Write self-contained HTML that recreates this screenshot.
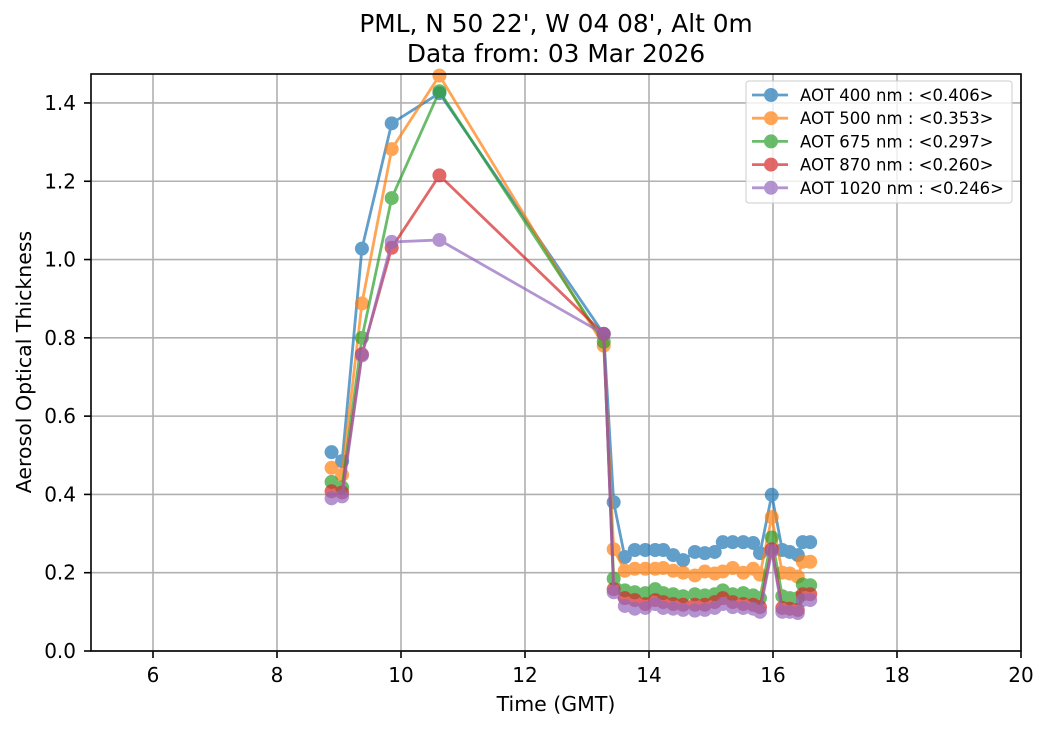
<!DOCTYPE html>
<html><head><meta charset="utf-8"><style>body{margin:0;background:#fff}svg{display:block;font-family:"DejaVu Sans","Liberation Sans",sans-serif}</style></head><body>
<svg id="c" width="1049" height="729"></svg>
<script>
const times=[8.88,9.05,9.37,9.85,10.62,13.27,13.43,13.61,13.77,13.94,14.10,14.23,14.39,14.55,14.74,14.90,15.06,15.19,15.35,15.52,15.68,15.79,15.98,16.15,16.27,16.40,16.48,16.60];
const aot400=[.508,.485,1.028,1.348,1.425,.81,.38,.240,.258,.258,.258,.258,.245,.232,.253,.250,.253,.278,.278,.278,.276,.250,.399,.258,.253,.245,.278,.278];
const aot500=[.468,.45,.888,1.282,1.47,.78,.26,.205,.21,.21,.21,.212,.205,.2,.193,.203,.198,.203,.212,.2,.21,.195,.342,.2,.198,.19,.228,.228];
const aot675=[.432,.418,.8,1.157,1.43,.79,.185,.155,.15,.148,.158,.148,.145,.14,.145,.142,.145,.155,.145,.148,.142,.135,.29,.14,.135,.135,.17,.168];
const aot870=[.408,.405,.758,1.03,1.215,.81,.158,.135,.13,.12,.13,.125,.12,.118,.118,.118,.125,.135,.125,.12,.118,.112,.26,.11,.108,.105,.145,.145];
const aot1020=[.39,.395,.755,1.045,1.05,.81,.15,.115,.108,.11,.12,.11,.108,.105,.103,.105,.11,.12,.112,.11,.108,.1,.255,.1,.1,.097,.13,.13];
const seriesLabels=["AOT 400 nm : <0.406>","AOT 500 nm : <0.353>","AOT 675 nm : <0.297>","AOT 870 nm : <0.260>","AOT 1020 nm : <0.246>"];
const xTicks=[6,8,10,12,14,16,18,20];
const yTicks=[0,0.2,0.4,0.6,0.8,1.0,1.2,1.4];
const series=[aot400,aot500,aot675,aot870,aot1020];
const colors=["#1f77b4","#ff7f0e","#2ca02c","#d62728","#9467bd"];
const L=91,R=1021,T=74,B=651,xmin=5,xmax=20,ymin=0,ymax=1.474;
const X=v=>L+(v-xmin)/(xmax-xmin)*(R-L), Y=v=>B-(v-ymin)/(ymax-ymin)*(B-T);
const svg=document.getElementById('c');const NS="http://www.w3.org/2000/svg";
function mk(t,a,p){const e=document.createElementNS(NS,t);for(const k in a)e.setAttribute(k,a[k]);(p||svg).appendChild(e);return e;}
function tx(s,a){const e=mk('text',a);e.textContent=s;return e;}
xTicks.forEach(v=>{const g=mk('line',{x1:X(v),x2:X(v),y1:T,y2:B,stroke:'#b0b0b0','stroke-width':1.6});
mk('line',{x1:X(v),x2:X(v),y1:B,y2:B+7,stroke:'#000','stroke-width':1.6});const t=tx(String(v),{x:X(v),y:682,'text-anchor':'middle','font-size':20});});
yTicks.forEach(v=>{const g=mk('line',{x1:L,x2:R,y1:Y(v),y2:Y(v),stroke:'#b0b0b0','stroke-width':1.6});
mk('line',{x1:L-7,x2:L,y1:Y(v),y2:Y(v),stroke:'#000','stroke-width':1.6});const t=tx(v.toFixed(1),{x:L-15,y:Y(v)+7,'text-anchor':'end','font-size':20});});
series.forEach((s,i)=>{const g=mk('g',{opacity:0.7});
mk('polyline',{points:s.map((v,j)=>X(times[j])+','+Y(v)).join(' '),fill:'none',stroke:colors[i],'stroke-width':2.8},g);
s.forEach((v,j)=>{const c=mk('circle',{cx:X(times[j]),cy:Y(v),r:7,fill:colors[i]},g);});});
const fr=mk('rect',{x:L,y:T,width:R-L,height:B-T,fill:'none',stroke:'#000','stroke-width':1.6});
const lg=mk('g',{});
mk('rect',{x:746,y:81,width:266,height:122,rx:3,fill:'#fff','fill-opacity':0.8,stroke:'#ccc'},lg);
seriesLabels.forEach((s,i)=>{const y=95+i*23.2;const e=mk('g',{opacity:0.7},lg);
mk('line',{x1:752,x2:788,y1:y,y2:y,stroke:colors[i],'stroke-width':2.8},e);mk('circle',{cx:771,cy:y,r:7,fill:colors[i]},e);
const t=document.createElementNS(NS,'text');t.setAttribute('x',800);t.setAttribute('y',y+6);t.setAttribute('font-size',16.5);t.textContent=s;lg.appendChild(t);});
let t=tx("PML, N 50 22', W 04 08', Alt 0m",{x:556,y:32,'text-anchor':'middle','font-size':24.8});
t=tx("Data from: 03 Mar 2026",{x:556,y:62,'text-anchor':'middle','font-size':24.8});
t=tx("Time (GMT)",{x:556,y:711,'text-anchor':'middle','font-size':20.5});
t=tx("Aerosol Optical Thickness",{x:0,y:0,'text-anchor':'middle','font-size':20.5,transform:'translate(31,362) rotate(-90)'});
</script></body></html>
